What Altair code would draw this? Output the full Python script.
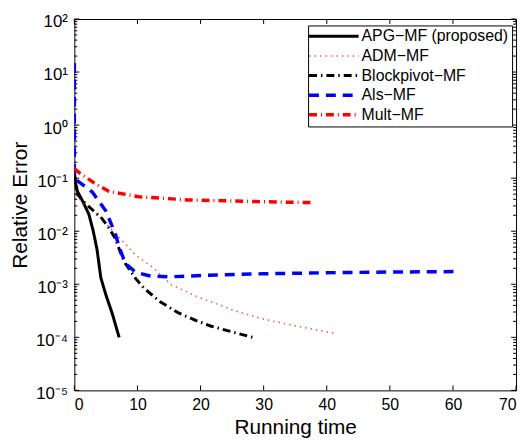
import altair as alt
import pandas as pd

FONT = "Liberation Sans"

series_names = ["APG−MF (proposed)", "ADM−MF", "Blockpivot−MF", "Als−MF", "Mult−MF"]

apg_x = [0, 0.2, 0.5, 1.3, 2.3, 3.0, 3.6, 4.2, 5.0, 6.0, 7.1]
apg_y = [0.135, 0.0794, 0.0562, 0.0372, 0.0209, 0.0100, 0.00447, 0.00132, 0.000631, 0.000282, 0.0001]

adm_x = [0, 0.5, 1.8, 3.4, 5.0, 6.5, 8.1, 9.7, 12.3, 15.4, 19.6, 22.8, 25.4, 30.1, 35.3, 41.6]
adm_y = [0.0603, 0.0447, 0.0302, 0.0224, 0.0141, 0.00891, 0.00575, 0.00355, 0.00214, 0.000977,
         0.000575, 0.000417, 0.000316, 0.000219, 0.000162, 0.000117]

bp_x = [0, 0.5, 1.5, 2.9, 4.3, 5.5, 6.5, 7.3, 8.1, 9.7, 11.0, 13.6, 16.5, 19.6, 21.7, 25.4, 28.3]
bp_y = [0.112, 0.0501, 0.0355, 0.0251, 0.0178, 0.0115, 0.00724, 0.00398, 0.00245, 0.00129,
        0.000851, 0.000468, 0.000288, 0.000200, 0.000162, 0.000123, 0.0001]

als_x = [0, 0, 0.5, 1.3, 2.9, 5.0, 6.5, 7.1, 8.1, 9.7, 11.8, 14.9, 21, 30, 41.6, 50, 61.2]
als_y = [14.8, 0.107, 0.0891, 0.0759, 0.0537, 0.0240, 0.00891, 0.00501, 0.00245, 0.00170,
         0.00145, 0.00138, 0.00148, 0.00158, 0.00166, 0.00170, 0.00174]

mult_x = [0, 0.8, 3.4, 5.5, 10.2, 18, 25, 32, 37.7]
mult_y = [0.151, 0.126, 0.0776, 0.0562, 0.0447, 0.0389, 0.0372, 0.0355, 0.0347]

x_ticks = [0, 10, 20, 30, 40, 50, 60, 70]
y_major = [1e-5, 1e-4, 1e-3, 1e-2, 1e-1, 1e0, 1e1, 1e2]
y_labels = ["10⁻⁵", "10⁻⁴", "10⁻³", "10⁻²", "10⁻¹", "10⁰", "10¹", "10²"]
y_minor = [m * d for d in y_major[:-1] for m in range(2, 10)]

rows = []
for name, xs, ys in zip(series_names,
                        [apg_x, adm_x, bp_x, als_x, mult_x],
                        [apg_y, adm_y, bp_y, als_y, mult_y]):
    for i, (a, b) in enumerate(zip(xs, ys)):
        rows.append({"series": name, "x": a, "y": b, "i": i})
df = pd.DataFrame(rows)

W, H = 446, 375

label_expr = ""
for k, lab in zip(range(-5, 3), y_labels):
    label_expr += f"round(log(datum.value)/LN10) == {k} ? '{lab}' : "
label_expr += "''"

X = alt.X("x:Q", scale=alt.Scale(domain=[0, 70], nice=False, zero=False),
          axis=alt.Axis(values=x_ticks, title="Running time", grid=False, domain=False,
                        ticks=False, labelFontSize=16, labelPadding=6,
                        titleFontSize=21, titleFontWeight="normal", titlePadding=5,
                        labelColor="black", titleColor="black"))
Y = alt.Y("y:Q", scale=alt.Scale(type="log", domain=[1e-5, 1e2], nice=False),
          axis=alt.Axis(values=y_major, labelExpr=label_expr, title="Relative Error",
                        grid=False, domain=False, ticks=False, labelFontSize=17,
                        labelPadding=7, labelOffset=3, titleFontSize=21,
                        titleFontWeight="normal", titlePadding=5,
                        labelColor="black", titleColor="black"))

colors = ["#000000", "#ff5050", "#000000", "#0000ff", "#ff0000"]
dashes = [[1, 0], [1.5, 4], [8, 4, 1.5, 4], [10, 7], [8, 4, 1, 4]]
widths = [3, 1.5, 3, 3.5, 3.5]

lines = alt.Chart(df).mark_line(strokeCap="butt", clip=True).encode(
    x=X, y=Y,
    color=alt.Color("series:N", scale=alt.Scale(domain=series_names, range=colors),
                    title=None, legend=alt.Legend(orient="none", legendX=236, legendY=6.5)),
    strokeDash=alt.StrokeDash("series:N", scale=alt.Scale(domain=series_names, range=dashes),
                              title=None),
    strokeWidth=alt.StrokeWidth("series:N",
                                scale=alt.Scale(type="ordinal", domain=series_names, range=widths),
                                title=None),
    order="i:Q",
    detail="series:N",
)

xt = pd.DataFrame({"x": x_ticks})
ymaj = pd.DataFrame({"y": y_major})
ymin = pd.DataFrame({"y": y_minor})

tick_style = dict(color="black", strokeWidth=1)
xt_bot = alt.Chart(xt).mark_rule(**tick_style).encode(x=X, y=alt.value(H), y2=alt.value(H - 5))
xt_top = alt.Chart(xt).mark_rule(**tick_style).encode(x=X, y=alt.value(0), y2=alt.value(5))
yt_l = alt.Chart(ymaj).mark_rule(**tick_style).encode(y=Y, x=alt.value(0), x2=alt.value(5))
yt_r = alt.Chart(ymaj).mark_rule(**tick_style).encode(y=Y, x=alt.value(W), x2=alt.value(W - 5))
ym_l = alt.Chart(ymin).mark_rule(**tick_style).encode(y=Y, x=alt.value(0), x2=alt.value(3))
ym_r = alt.Chart(ymin).mark_rule(**tick_style).encode(y=Y, x=alt.value(W), x2=alt.value(W - 3))

chart = alt.layer(xt_bot, xt_top, yt_l, yt_r, ym_l, ym_r, lines).properties(
    width=W, height=H,
    autosize=alt.AutoSizeParams(type="none"),
    padding={"left": 67, "top": 9, "right": 5, "bottom": 50},
).configure(font=FONT).configure_view(
    stroke="black", strokeWidth=1
).configure_legend(
    symbolType="M-5,0H5", symbolSize=100, labelFontSize=16, labelFont=FONT,
    labelColor="black", strokeColor="black", fillColor="white", padding=3,
    rowPadding=3.8, symbolOffset=15, labelOffset=20, labelLimit=300,
    cornerRadius=0, symbolFillColor="transparent",
)

chart.save("out.html", embed_options={"renderer": "svg", "actions": False})
